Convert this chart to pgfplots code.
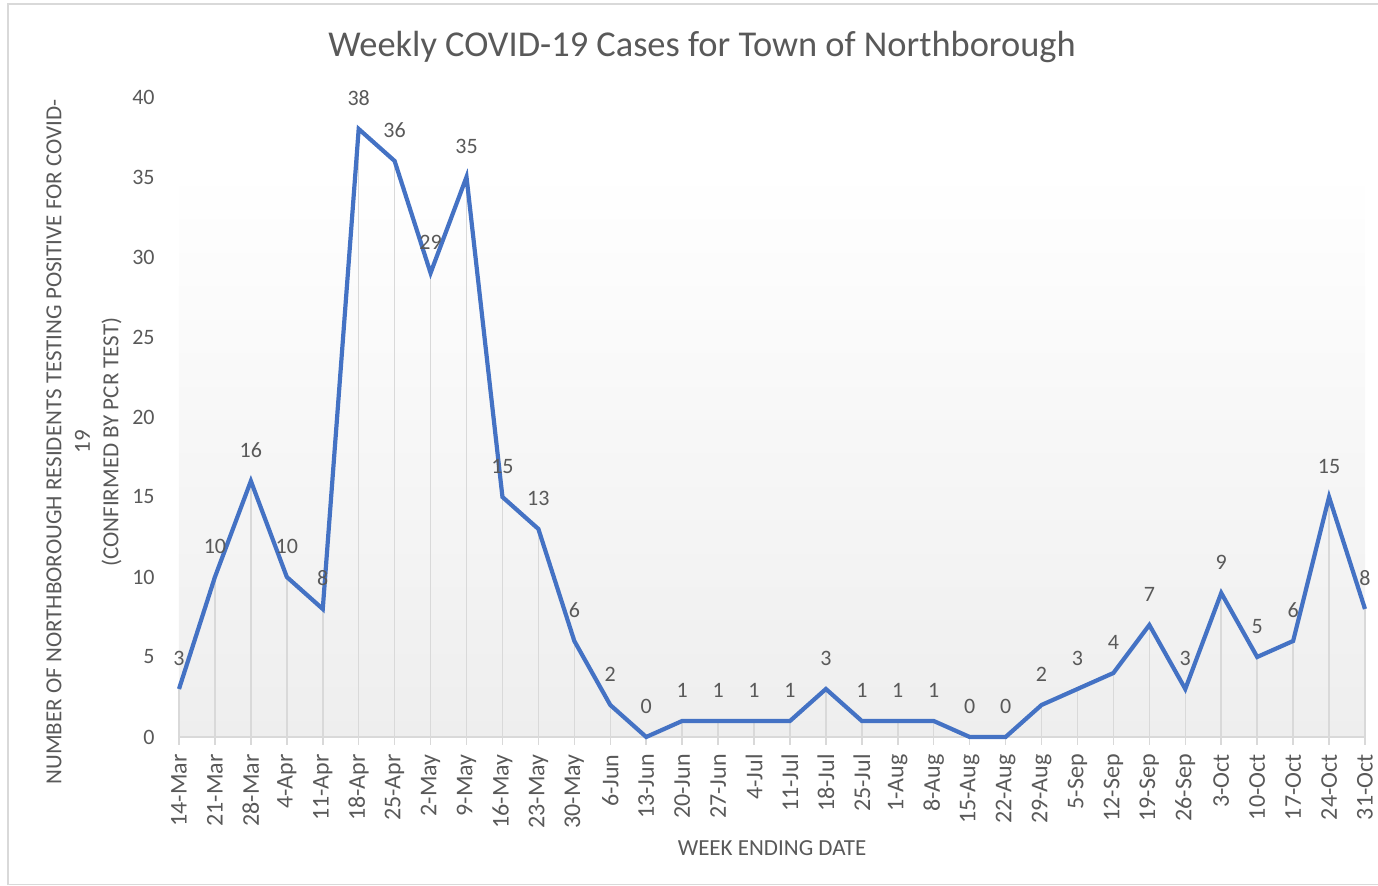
\documentclass[border=0pt]{standalone}
\usepackage{fontspec}
\setmainfont{Carlito}
\usepackage{pgfplots}
\pgfplotsset{compat=1.18}
\usepackage{pgfplotstable}
\definecolor{txt}{HTML}{595959}
\definecolor{ln}{HTML}{4472C4}
\definecolor{gridc}{HTML}{D9D9D9}
\definecolor{bgc}{HTML}{EEEEEE}

\pgfplotstableread{
x y
0 3
1 10
2 16
3 10
4 8
5 38
6 36
7 29
8 35
9 15
10 13
11 6
12 2
13 0
14 1
15 1
16 1
17 1
18 3
19 1
20 1
21 1
22 0
23 0
24 2
25 3
26 4
27 7
28 3
29 9
30 5
31 6
32 15
33 8
}\data

\begin{document}
\begin{tikzpicture}
\useasboundingbox (0,0) rectangle (689pt,443pt);
\draw[gridc, line width=0.7pt] (4pt,0.6pt) rectangle (720pt,441pt);
\node[text=txt, font=\fontsize{18.2}{22}\selectfont] at (351pt,419.5pt) {Weekly COVID-19 Cases for Town of Northborough};
\node[text=txt, font=\fontsize{11.5}{13.5}\selectfont] at (386pt,19pt) {WEEK ENDING DATE};
\node[text=txt, font=\fontsize{11.5}{14.2}\selectfont, rotate=90, align=center] at (42pt,222pt)
  {NUMBER OF NORTHBOROUGH RESIDENTS TESTING POSITIVE FOR COVID-\\19\\(CONFIRMED BY PCR TEST)};
\begin{axis}[
  at={(89.5pt,74.5pt)}, anchor=south west,
  width=593pt, height=320pt, scale only axis,
  xmin=0, xmax=33, ymin=0, ymax=40,
  clip=false,
  axis line style={draw=none},
  xtick={0,...,33},
  xticklabels={14-Mar,21-Mar,28-Mar,4-Apr,11-Apr,18-Apr,25-Apr,2-May,9-May,16-May,23-May,30-May,6-Jun,13-Jun,20-Jun,27-Jun,4-Jul,11-Jul,18-Jul,25-Jul,1-Aug,8-Aug,15-Aug,22-Aug,29-Aug,5-Sep,12-Sep,19-Sep,26-Sep,3-Oct,10-Oct,17-Oct,24-Oct,31-Oct},
  ytick={0,5,...,40},
  xtick pos=bottom, ytick pos=left,
  tick align=outside,
  major tick length=4pt,
  xtick style={gridc, line width=0.75pt},
  ytick style={draw=none},
  /pgf/number format/assume math mode=true,
  yticklabel style={text=txt, font=\fontsize{11}{13}\selectfont, anchor=east, inner sep=0pt, xshift=-8pt},
  xticklabel style={text=txt, font=\fontsize{12}{14}\selectfont, rotate=90, anchor=east, inner sep=0pt},
  xticklabel shift=4.5pt,
]
\fill[top color=white, bottom color=bgc, draw=none] (axis cs:0,0) rectangle (axis cs:33,35.5);
\addplot[ycomb, gridc, line width=0.75pt, mark=none] table[x=x,y=y] {\data};
\draw[gridc, line width=0.75pt] (axis cs:0,0) -- (axis cs:33,0);
\addplot[ln, line width=2.1pt, mark=none,
  nodes near coords,
  every node near coord/.append style={text=txt, font=\fontsize{11}{13}\selectfont, anchor=base, inner sep=0pt, yshift=11.5pt}]
  table[x=x,y=y] {\data};
\end{axis}
\end{tikzpicture}
\end{document}
